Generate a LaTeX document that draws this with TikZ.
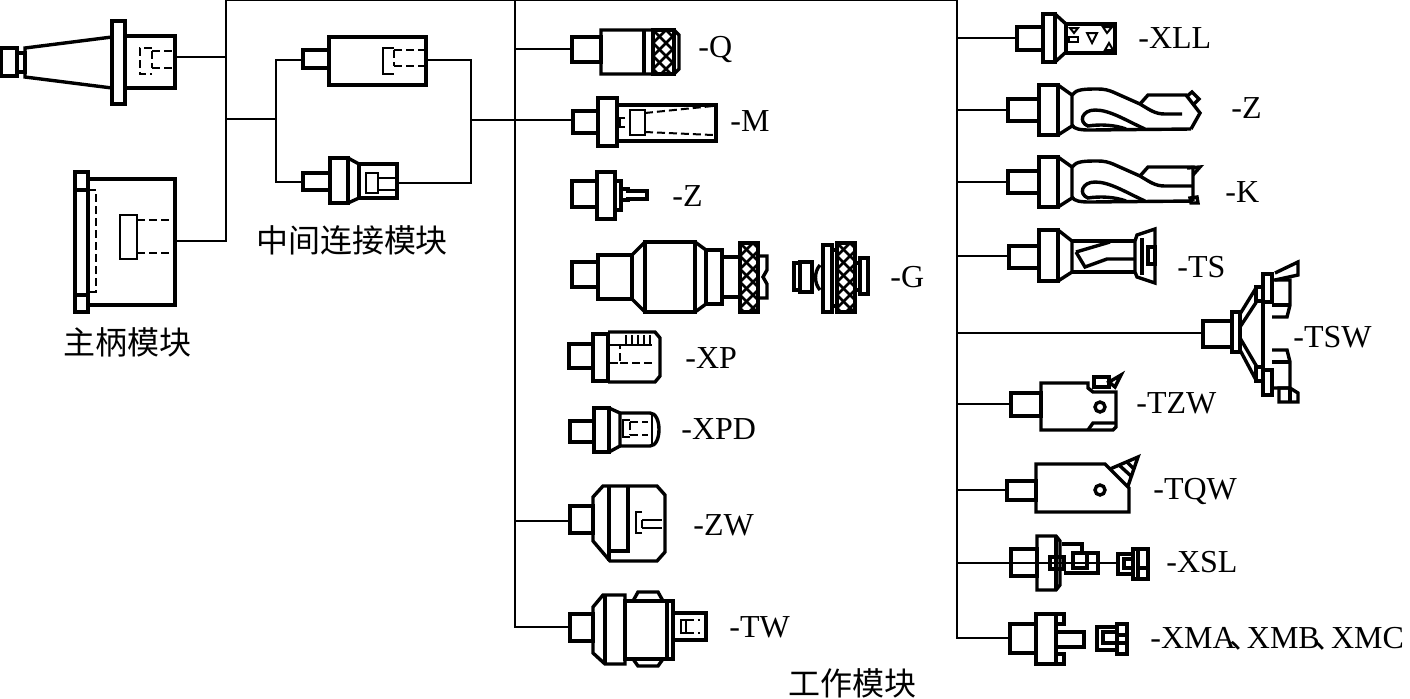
\documentclass[tikz,border=0pt]{standalone}
\usepackage{fontspec}
\setmainfont{Liberation Serif}
\newfontfamily\cjk{Noto Sans CJK SC}
\tikzset{
  wire/.style={line width=0.8pt},
  part/.style={line width=1.7pt},
  fine/.style={line width=1pt},
  hid/.style={line width=1pt, dash pattern=on 4pt off 2pt},
  knurlline/.style={line width=1.3pt},
  lbl/.style={anchor=west, inner sep=0pt, font=\fontsize{16}{16}\selectfont},
  title/.style={inner sep=0pt, font=\cjk\fontsize{16}{16}\selectfont}
}
\newcommand{\knurl}[4]{%
  \begin{scope}
    \clip (#1,#2) rectangle (#3,#4);
    \foreach \k in {-91,-78,...,91} {
      \draw[knurlline] ({#1+(\k)},#2) -- ++(90,90);
      \draw[knurlline] ({#1+(\k)},#2) -- ++(-90,90);
    }
  \end{scope}
  \draw[part] (#1,#2) rectangle (#3,#4);}
\begin{document}
\begin{tikzpicture}[x=0.5pt,y=-0.5pt]
\useasboundingbox (0,0) rectangle (1410,698);

% shank modules
\draw[part] (1,48) rectangle (17,76);
\draw[part] (17,53) rectangle (25,72);
\draw[part] (25,48) -- (112,37) -- (112,88) -- (25,77) -- cycle;
\draw[part] (112,21) rectangle (125,104);
\draw[part] (125,36) rectangle (175,88);
\draw[hid] (152,48) -- (140,48) -- (140,74) -- (152,74);
\draw[hid] (152,51) -- (175,51) (152,68) -- (175,68) (152,51) -- (152,68);

\draw[part] (75,172) rectangle (88,312);
\draw[part] (75,190) -- (88,190) (75,295) -- (88,295);
\draw[part] (88,179) rectangle (175,305);
\draw[hid] (88,190) -- (96,190) -- (96,292) -- (88,292);
\draw[fine] (120,215) rectangle (137,259);
\draw[hid] (137,220) -- (175,220) (137,253) -- (175,253);

% intermediate modules
\draw[part] (303,50) rectangle (329,68);
\draw[part] (329,37) rectangle (426,85);
\draw[fine] (394,48) -- (383,48) -- (383,74) -- (394,74);
\draw[hid] (394,50) -- (425,50) (394,66) -- (425,66) (394,50) -- (394,66);

\draw[part] (303,173) rectangle (330,190);
\draw[part] (330,158) rectangle (348,203);
\draw[part] (348,158) -- (359,164) -- (359,198) -- (348,203);
\draw[part] (359,164) rectangle (397,198);
\draw[fine] (366,173) rectangle (378,193);
\draw[fine] (378,178) -- (397,178) (378,190) -- (397,190);

% working modules, middle column
% Q
\draw[part] (572,37) rectangle (601,62);
\knurl{653}{30}{674}{74}
\draw[part] (601,30) -- (674,30) -- (679,35) -- (679,69) -- (674,74) -- (601,74) -- cycle;
\draw[part] (644,30) -- (644,74);
% M
\draw[part] (573,111) rectangle (598,133);
\draw[part] (598,98) rectangle (617,146);
\draw[part] (617,105) rectangle (716,141);
\draw[fine] (630,110) rectangle (645,135);
\draw[fine] (625,118) -- (620,118) -- (620,127) -- (625,127);
\draw[hid] (645,113) -- (713,106) (645,132) -- (713,135);
% Z
\draw[part] (572,181) rectangle (597,207);
\draw[part] (597,172) rectangle (615,219);
\draw[part] (615,181) rectangle (621,210);
\draw[part] (621,189) -- (628,189) -- (628,191) -- (647,191) -- (647,199) -- (628,199) -- (628,200) -- (621,200);
% G
\draw[part] (572,262) rectangle (598,287);
\draw[part] (598,255) rectangle (632,299);
\draw[part] (632,255) -- (645,242) (632,299) -- (645,312);
\draw[part] (645,242) rectangle (695,312);
\draw[part] (695,242) -- (706,250) -- (706,304) -- (695,312);
\draw[part] (706,250) rectangle (722,304);
\draw[part] (722,257) rectangle (740,297);
\knurl{740}{243}{758}{312}
\draw[part] (758,256) -- (767,256) -- (767,270) -- (763,277) -- (767,284) -- (767,298) -- (758,298);
\draw[part] (794,263) rectangle (800,290);
\draw[part] (800,262) rectangle (812,292);
\draw[part] (820,265) .. controls (814,272) and (814,283) .. (820,290);
\draw[part] (823,245) rectangle (832,312);
\draw[part] (832,250) rectangle (837,306);
\knurl{837}{243}{855}{312}
\draw[part] (855,263) rectangle (860,290);
\draw[part] (860,258) rectangle (868,294);
% XP
\draw[part] (569,344) rectangle (593,368);
\draw[part] (593,334) rectangle (608,381);
\draw[part] (608,332) -- (655,332) -- (660,338) -- (660,376) -- (655,382) -- (608,382);
\draw[fine] (610,345) -- (652,345);
\foreach \t in {626,632,...,650}
  \draw[fine] (\t,335) -- (\t,345);
\draw[hid] (610,363) -- (620,363) -- (620,345) (620,363) -- (652,363);
% XPD
\draw[part] (570,421) rectangle (594,442);
\draw[part] (594,408) rectangle (609,452);
\draw[part] (609,408) -- (620,413) (609,452) -- (620,446);
\draw[part] (620,413) -- (650,413) .. controls (662,413) and (662,446) .. (650,446) -- (620,446) -- cycle;
\draw[fine] (652,414) -- (652,445);
\draw[fine] (630,420) -- (623,420) -- (623,437) -- (630,437);
\draw[hid] (630,422) -- (648,422) (630,435) -- (648,435) (630,422) -- (630,435);
% ZW
\draw[part] (570,506) rectangle (593,533);
\draw[part] (593,497) -- (603,486) -- (657,486) -- (665,495) -- (665,552) -- (657,561) -- (610,561) -- (593,541) -- cycle;
\draw[part] (609,486) -- (609,561);
\draw[part] (609,551) -- (628,551) -- (628,486);
\draw[fine] (642,512) -- (636,512) -- (636,533) -- (642,533);
\draw[fine] (642,520) -- (662,520) (642,528) -- (662,528) (642,520) -- (642,528);
% TW
\draw[part] (570,614) rectangle (593,641);
\draw[part] (593,607) -- (603,595) -- (625,595) -- (625,664) -- (605,664) -- (593,653) -- cycle;
\draw[part] (605,595) -- (605,664);
\draw[part] (625,601) rectangle (673,659);
\draw[part] (633,601) -- (638,592) -- (658,592) -- (663,601);
\draw[part] (633,659) -- (638,666) -- (658,666) -- (663,659);
\draw[part] (667,601) -- (667,659);
\draw[part] (673,613) rectangle (706,640);
\draw[fine] (681,620) rectangle (686,633);
\draw[hid] (686,620) -- (700,620) (686,633) -- (700,633);

% working modules, right column
% XLL
\draw[part] (1017,27) rectangle (1043,50);
\draw[part] (1043,14) rectangle (1055,62);
\draw[part] (1055,14) -- (1066,24) (1055,62) -- (1066,52);
\draw[part] (1066,24) rectangle (1115,53);
\draw[fine] (1070,28) -- (1078,28) -- (1074,33) -- cycle;
\draw[fine] (1069,37) rectangle (1078,42);
\draw[fine] (1087,33) -- (1097,33) -- (1092,43) -- cycle;
\draw[fine] (1103,27) -- (1112,27) -- (1107,33) -- cycle;
\draw[fine] (1105,50) -- (1113,50) -- (1109,43) -- cycle;
% Z drill
\draw[part] (1008,99) rectangle (1039,121);
\draw[part] (1039,85) rectangle (1058,135);
\draw[part] (1058,85) -- (1072,95) -- (1072,126) -- (1058,135);
\draw[part] (1072,95) .. controls (1076,89) and (1085,89) .. (1098,89) .. controls (1104,89) and (1108,90) .. (1113,92) -- (1140,104) .. controls (1150,110) and (1155,114) .. (1165,114) -- (1182,114);
\draw[part] (1140,104) -- (1148,95) -- (1186,95) -- (1200,113) -- (1191,129);
\draw[part] (1072,125) .. controls (1074,129) and (1080,130) .. (1090,130) -- (1191,129);
\draw[part] (1145,129) .. controls (1125,120) and (1110,110) .. (1095,110) .. controls (1082,110) and (1078,122) .. (1088,126) .. controls (1100,124) and (1115,125) .. (1126,129);
\draw[part] (1186,97) -- (1192,92) -- (1199,99) -- (1194,104);
% K drill
\draw[part] (1008,171) rectangle (1039,193);
\draw[part] (1039,157) rectangle (1058,207);
\draw[part] (1058,157) -- (1072,167) -- (1072,198) -- (1058,207);
\draw[part] (1072,167) .. controls (1076,161) and (1085,161) .. (1098,161) .. controls (1104,161) and (1108,162) .. (1113,164) -- (1140,176) .. controls (1150,182) and (1155,186) .. (1165,186) -- (1193,186);
\draw[part] (1140,176) -- (1148,167) -- (1193,167) -- (1193,201);
\draw[part] (1072,197) .. controls (1074,201) and (1080,202) .. (1090,202) -- (1193,201);
\draw[part] (1145,201) .. controls (1125,192) and (1110,182) .. (1095,182) .. controls (1082,182) and (1078,194) .. (1088,198) .. controls (1100,196) and (1115,197) .. (1126,201);
\draw[part] (1187,168) -- (1200,167) -- (1193,175);
\draw[part] (1190,198) -- (1197,197) -- (1198,203) -- (1191,203) -- cycle;
% TS
\draw[part] (1009,246) rectangle (1039,268);
\draw[part] (1039,230) rectangle (1058,281);
\draw[part] (1058,230) -- (1072,241) -- (1072,272) -- (1058,281);
\draw[part] (1072,241) -- (1135,241) (1072,272) -- (1135,272);
\draw[part] (1076,252) -- (1110,242) (1076,252) -- (1085,267) -- (1107,259) -- (1135,259);
\draw[part] (1135,241) -- (1137,235) -- (1155,229) -- (1155,283) -- (1137,277) -- (1135,272) -- cycle;
\draw[part] (1142,238) -- (1142,275);
\draw[part] (1148,247) rectangle (1155,264);
% TSW
\draw[part] (1203,321) rectangle (1232,347);
\draw[part] (1232,312) rectangle (1240,352);
\draw[part] (1240,314) -- (1256,288) (1240,327) -- (1257,301);
\draw[part] (1256,287) rectangle (1263,301);
\draw[part] (1240,350) -- (1256,380) (1240,338) -- (1257,367);
\draw[part] (1256,367) rectangle (1263,381);
\draw[part] (1263,274) rectangle (1272,302);
\draw[part] (1263,370) rectangle (1272,395);
\draw[part] (1263,302) -- (1263,370);
\draw[part] (1272,280) -- (1290,280) -- (1290,305) -- (1287,317) -- (1272,317);
\draw[part] (1272,305) -- (1290,305);
\draw[part] (1275,273) -- (1298,262) -- (1298,275) -- (1275,280);
\draw[part] (1272,350) -- (1287,350) -- (1290,362) -- (1290,388) -- (1272,388);
\draw[part] (1272,362) -- (1290,362);
\draw[part] (1279,388) -- (1290,388) -- (1298,393) -- (1298,402) -- (1279,402) -- cycle;
\draw[part] (1290,388) -- (1290,402);
% TZW
\draw[part] (1011,393) rectangle (1041,416);
\draw[part] (1041,383) -- (1088,383) -- (1088,388) -- (1093,392) -- (1116,392) -- (1116,427) -- (1113,430) -- (1041,430) -- cycle;
\draw[part] (1088,430) -- (1093,423) -- (1116,423);
\draw[part] (1094,377) rectangle (1109,387);
\draw[part] (1109,382) -- (1121,375) -- (1115,387) -- cycle;
\draw[part] (1100,407) circle[radius=5];
% TQW
\draw[part] (1007,481) rectangle (1036,500);
\draw[part] (1036,464) -- (1105,464) -- (1129,488) -- (1129,512) -- (1036,512) -- cycle;
\draw[part] (1110,469) -- (1138,457) -- (1128,486);
\draw[part] (1119,465) -- (1131,476) (1127,462) -- (1134,469);
\draw[part] (1100,490) circle[radius=5];
% XSL
\draw[part] (1011,549) rectangle (1037,576);
\draw[part] (1037,536) -- (1056,536) -- (1060,541) -- (1060,585) -- (1056,590) -- (1037,590) -- cycle;
\draw[part] (1056,536) -- (1056,590);
\draw[part] (1050,557) rectangle (1064,569);
\draw[part] (1062,544) -- (1082,544) -- (1082,553) -- (1098,553) -- (1098,573) -- (1064,573);
\draw[part] (1073,553) rectangle (1087,568);
\draw[part] (1118,554) rectangle (1133,574);
\draw[part] (1124,559) rectangle (1133,568);
\draw[part] (1133,549) rectangle (1148,579);
\draw[part] (1138,549) -- (1138,579) (1138,568) -- (1148,568);
% XMA XMB XMC
\draw[part] (1010,624) rectangle (1036,653);
\draw[part] (1036,614) rectangle (1056,664);
\draw[part] (1056,614) rectangle (1064,624);
\draw[part] (1056,654) rectangle (1064,664);
\draw[part] (1056,632) rectangle (1084,647);
\draw[part] (1097,627) rectangle (1117,650);
\draw[part] (1103,632) rectangle (1117,643);
\draw[part] (1117,624) rectangle (1127,654);
\draw[part] (1117,635) -- (1127,635) (1117,643) -- (1127,643);

% connection points
\coordinate (tl) at (226,0);
\coordinate (tm) at (515,0);
\coordinate (tr) at (957,0);
\coordinate (h1) at (175,57);
\coordinate (h2) at (175,241);
\coordinate (m1) at (303,60);
\coordinate (m1r) at (426,60);
\coordinate (m2) at (303,182);
\coordinate (m2r) at (397,183);
\coordinate (jl) at (276,119);
\coordinate (jr) at (471,120);
\coordinate (q) at (572,49);
\coordinate (m) at (573,120);
\coordinate (zw) at (570,521);
\coordinate (tw) at (570,627);
\coordinate (xll) at (1017,38);
\coordinate (zd) at (1008,110);
\coordinate (kd) at (1008,182);
\coordinate (ts) at (1009,256);
\coordinate (tsw) at (1203,333);
\coordinate (tzw) at (1011,404);
\coordinate (tqw) at (1007,490);
\coordinate (xsl) at (1118,563);
\coordinate (xma) at (1010,638);

% connectors
\draw[wire] (tl) -- (tr);
\draw[wire] (h1) -- (h1 -| tl);
\draw[wire] (tl) |- (h2);
\draw[wire] (jl -| tl) -- (jl);
\draw[wire] (m1) -| (jl) |- (m2);
\draw[wire] (m1r) -| (jr) |- (m2r);
\draw[wire] (jr) -- (jr -| tm);
\draw[wire] (tm) |- (tw);
\foreach \p in {q,m,zw}
  \draw[wire] (\p) -- (\p -| tm);
\draw[wire] (tr) |- (xma);
\foreach \p in {xll,zd,kd,ts,tsw,tzw,tqw,xsl}
  \draw[wire] (\p) -- (\p -| tr);

% labels
\node[title] (shank) at (127,342) {主柄模块};
\node[title] (inter) at (352,240) {中间连接模块};
\node[title] (work) at (852,683) {工作模块};
\node[lbl] (lq) at (698,49) {-Q};
\node[lbl] (lm) at (730,121) {-M};
\node[lbl] (lz) at (672,196) {-Z};
\node[lbl] (lg) at (890,277) {-G};
\node[lbl] (lxp) at (685,358) {-XP};
\node[lbl] (lxpd) at (681,429) {-XPD};
\node[lbl] (lzw) at (693,525) {-ZW};
\node[lbl] (ltw) at (729,627) {-TW};
\node[lbl] (lxll) at (1138,38) {-XLL};
\node[lbl] (lzd) at (1231,108) {-Z};
\node[lbl] (lkd) at (1225,192) {-K};
\node[lbl] (lts) at (1177,267) {-TS};
\node[lbl] (ltsw) at (1293,337) {-TSW};
\node[lbl] (ltzw) at (1136,403) {-TZW};
\node[lbl] (ltqw) at (1153,491) {-TQW};
\node[lbl] (lxsl) at (1166,562) {-XSL};
\node[lbl] (lxma) at (1150,639) {-XMA\kern-0.2em{\cjk 、}\kern-0.45em XMB\kern-0.2em{\cjk 、}\kern-0.45em XMC};
\end{tikzpicture}
\end{document}
